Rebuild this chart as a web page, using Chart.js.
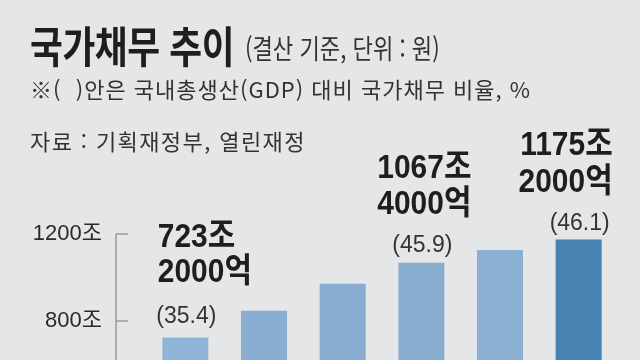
<!DOCTYPE html>
<html lang="ko">
<head>
<meta charset="utf-8">
<title>국가채무 추이</title>
<script src="https://cdn.jsdelivr.net/npm/chart.js@4.4.1/dist/chart.umd.min.js"></script>
<style>
  html, body { margin: 0; padding: 0; background: #e5e6e8; overflow: hidden; }
  #wrap { position: relative; width: 640px; height: 360px; }
  #box { position: absolute; left: 0; top: 0; width: 640px; height: 360px; }
  .hd { position: absolute; white-space: nowrap; color: #1e1e1e; font-family: "Noto Sans CJK KR", sans-serif; transform-origin: left top; }
  #title { left: 30px; top: 23px; font-size: 43px; line-height: 43px; font-weight: 700; transform: scaleX(0.83); letter-spacing: -0.5px; }
  #unit { left: 245px; top: 34px; font-size: 27px; line-height: 27px; font-weight: 400; color: #333; transform: scaleX(0.82); }
  #note { left: 30px; top: 77px; font-size: 22px; line-height: 22px; font-weight: 400; color: #333; letter-spacing: 1px; }
  #src { left: 30px; top: 129px; font-size: 22px; line-height: 22px; font-weight: 400; color: #333; letter-spacing: 1.4px; }
</style>
</head>
<body>
<div id="wrap">
  <div id="box"><canvas id="c"></canvas></div>
  <div class="hd" id="title">국가채무 추이</div>
  <div class="hd" id="unit">(결산 기준, 단위 : 원)</div>
  <div class="hd" id="note">※(&nbsp;&nbsp;)안은 국내총생산(GDP) 대비 국가채무 비율, %</div>
  <div class="hd" id="src">자료 : 기획재정부, 열린재정</div>
</div>
<script>
// ---- data ----
const categories = ['2019', '2020', '2021', '2022', '2023', '2024'];
const debtTrillion = [723.2, 846.6, 970.7, 1067.4, 1126.8, 1175.2];   // 조 원
const gdpRatio = [35.4, null, null, 45.9, null, 46.1];                 // %
const yTicks = [800, 1200];
const yTickSuffix = '조';

// ---- styles ----
const barColors = ['#91b5d8', '#8aaed1', '#89add0', '#8aaecf', '#8bafd0', '#4683b2'];

function amountLines(v) {
  const jo = Math.floor(v);
  const eok = Math.round((v - jo) * 10000);
  return [jo + '조', eok + '억'];
}

function drawScaled(ctx, text, x, y, align, font, sx, color) {
  ctx.save();
  ctx.translate(x, y);
  ctx.scale(sx, 1);
  ctx.font = font;
  ctx.fillStyle = color;
  ctx.textAlign = align;
  ctx.textBaseline = 'alphabetic';
  ctx.fillText(text, 0, 0);
  ctx.restore();
}

const labelPlugin = {
  id: 'barLabels',
  afterDraw(chart, args, opts) {
    const ctx = chart.ctx;
    const ys = chart.scales.y;
    const area = chart.chartArea;
    // axis line + tick marks
    ctx.save();
    ctx.strokeStyle = '#9a9a9a';
    ctx.lineWidth = 1.5;
    const ax = area.left + opts.axisOffset;
    const topY = ys.getPixelForValue(yTicks[yTicks.length - 1]);
    ctx.beginPath();
    ctx.moveTo(ax, topY);
    ctx.lineTo(ax, area.bottom);
    yTicks.forEach(v => {
      const py = ys.getPixelForValue(v);
      ctx.moveTo(ax, py);
      ctx.lineTo(ax + opts.tickLen, py);
    });
    ctx.stroke();
    ctx.restore();

    const meta = chart.getDatasetMeta(0);
    const boldFont = 'bold 34px "Liberation Sans", "Noto Sans CJK KR", sans-serif';
    const ratioFont = '23px "Liberation Sans", "Noto Sans CJK KR", sans-serif';
    gdpRatio.forEach((r, i) => {
      if (r === null) return;
      const bar = meta.data[i];
      const a = opts.anchors[i];
      const ratioC = bar.y - a.rGap;
      const l2C = ratioC - a.g2;
      const l1C = l2C - a.g1;
      const lines = amountLines(debtTrillion[i]);
      drawScaled(ctx, '(' + r.toFixed(1) + ')', bar.x + 1, ratioC + 0.358 * 23, 'center', ratioFont, 1, '#333');
      drawScaled(ctx, lines[0], bar.x + a.dx, l1C + 0.358 * 34, a.align, boldFont, 0.88, '#1e1e1e');
      drawScaled(ctx, lines[1], bar.x + a.dx, l2C + 0.358 * 34, a.align, boldFont, 0.88, '#1e1e1e');
    });
  }
};

new Chart(document.getElementById('c'), {
  type: 'bar',
  data: {
    labels: categories,
    datasets: [{
      data: debtTrillion,
      backgroundColor: barColors,
      borderWidth: 0,
      barPercentage: 0.585,
      categoryPercentage: 1.0
    }]
  },
  options: {
    responsive: true,
    maintainAspectRatio: false,
    animation: false,
    layout: { padding: { left: 0, right: 22, top: 234, bottom: 0 } },
    plugins: {
      legend: { display: false },
      tooltip: { enabled: false },
      barLabels: {
        axisOffset: -30,
        tickLen: 12,
        anchors: {
          0: { align: 'left', dx: -27.5, rGap: 23, g2: 45, g1: 35 },
          3: { align: 'left', dx: -44, rGap: 19.5, g2: 41, g1: 36 },
          5: { align: 'right', dx: 34, rGap: 17.5, g2: 42.5, g1: 36.5 }
        }
      }
    },
    scales: {
      x: { display: false },
      y: {
        min: 620,
        max: 1200,
        afterBuildTicks: s => { s.ticks = yTicks.map(v => ({ value: v })); },
        afterFit: s => { s.width = 146; s.paddingTop = 0; s.paddingBottom = 0; },
        grid: { display: false, drawTicks: false },
        border: { display: false },
        ticks: {
          padding: 44,
          color: '#2a2a2a',
          font: { family: '"Liberation Sans", "Noto Sans CJK KR", sans-serif', size: 22 },
          callback: v => v + yTickSuffix
        }
      }
    }
  },
  plugins: [labelPlugin]
});
</script>
</body>
</html>
